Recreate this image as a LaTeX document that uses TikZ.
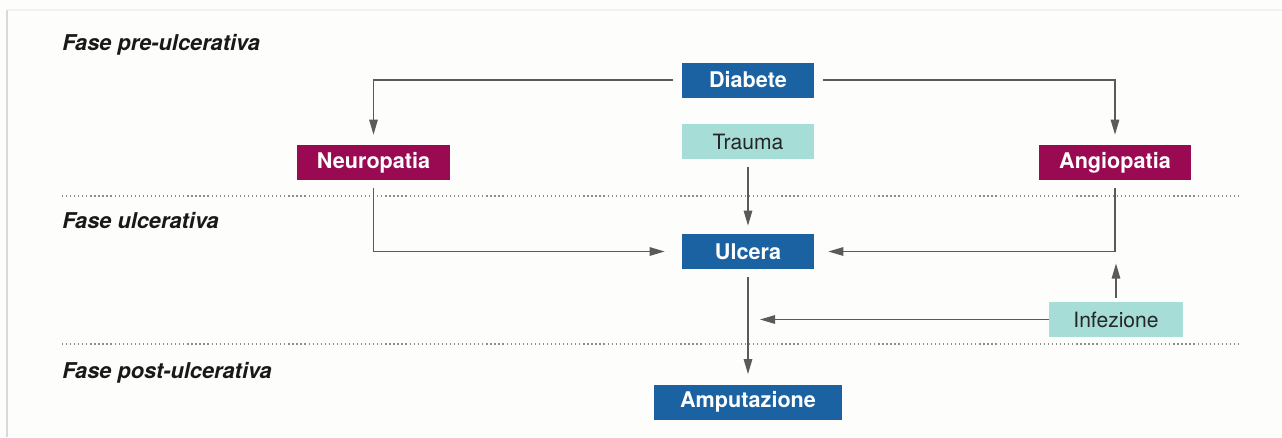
\documentclass[tikz,border=0pt]{standalone}
\usepackage{fontspec}
\setmainfont{TeX Gyre Heros}
\usetikzlibrary{arrows.meta}
\definecolor{diabblue}{HTML}{1A62A2}
\definecolor{pathred}{HTML}{9A0A52}
\definecolor{lightteal}{HTML}{A6DDD6}
\definecolor{linegray}{HTML}{5A5A5A}
\definecolor{dotgray}{HTML}{8C8C8C}
\definecolor{paper}{HTML}{FDFDFB}

\begin{document}
\begin{tikzpicture}[x=0.02cm, y=-0.02cm,
  box/.style={minimum height=0.7cm, inner sep=0pt, font=\fontsize{12.3}{14}\selectfont\bfseries, text=white},
  bluebox/.style={box, fill=diabblue, minimum width=2.64cm},
  redbox/.style={box, fill=pathred, minimum width=3.06cm},
  tealbox/.style={box, fill=lightteal, font=\fontsize{12}{14}\selectfont, text=black!85},
  phase/.style={anchor=base west, inner sep=0pt, font=\fontsize{12.4}{14}\selectfont\bfseries\itshape, text=black!90},
  arr/.style={draw=linegray, line width=0.75pt, -{Triangle[length=0.3cm,width=0.17cm]}},
  sep/.style={dotgray, line width=0.6pt, dash pattern=on 0.7pt off 1.6pt}]
% page and frame
\fill[paper] (0,0) rectangle (1282,437);
\useasboundingbox (0,0) rectangle (1282,437);
\draw[gray!10, line width=0.6pt] (7,10) -- (1282,10);
\draw[gray!30, line width=0.6pt] (7,437) -- (7,10);

% phase labels and separators
\node[phase] (pre) at (62,50) {Fase pre-ulcerativa};
\node[phase] (ulc) at (62,228) {Fase ulcerativa};
\node[phase] (post) at (62,378) {Fase post-ulcerativa};
\draw[sep] (62,196) -- (1240,196);
\draw[sep] (62,344) -- (1240,344);

% boxes
\node[bluebox] (diabete) at (748,80) {Diabete};
\node[tealbox, minimum width=2.64cm] (trauma) at (748,141.5) {Trauma};
\node[redbox] (neuro) at (373.5,162.5) {Neuropatia};
\node[redbox] (angio) at (1115,162.5) {Angiopatia};
\node[bluebox] (ulcera) at (748,251.5) {Ulcera};
\node[tealbox, minimum width=2.68cm] (infez) at (1116,319.5) {Infezione};
\node[bluebox, minimum width=3.76cm] (amput) at (748,402) {Amputazione};

% Diabete splits to both sides
\draw[arr, shorten <=0.18cm, shorten >=0.2cm] (diabete.west) -| (neuro.north);
\draw[arr, shorten <=0.18cm, shorten >=0.2cm] (diabete.east) -| (angio.north);

% into Ulcera
\draw[arr, shorten <=0.16cm, shorten >=0.16cm] (trauma) -- (ulcera);
\draw[arr, shorten <=0.16cm, shorten >=0.34cm] (neuro.south) |- (ulcera.west);
\draw[arr, shorten <=0.16cm, shorten >=0.28cm] (angio.south) |- (ulcera.east);

% Infezione
\draw[arr, shorten <=0.08cm, shorten >=0.24cm] (infez.north) -- (infez.north |- ulcera.east);
\draw[arr, shorten >=0.24cm] (infez.west) -- (infez.west -| ulcera.south);

% Ulcera to Amputazione
\draw[arr, shorten <=0.16cm, shorten >=0.2cm] (ulcera) -- (amput);
\end{tikzpicture}
\end{document}
